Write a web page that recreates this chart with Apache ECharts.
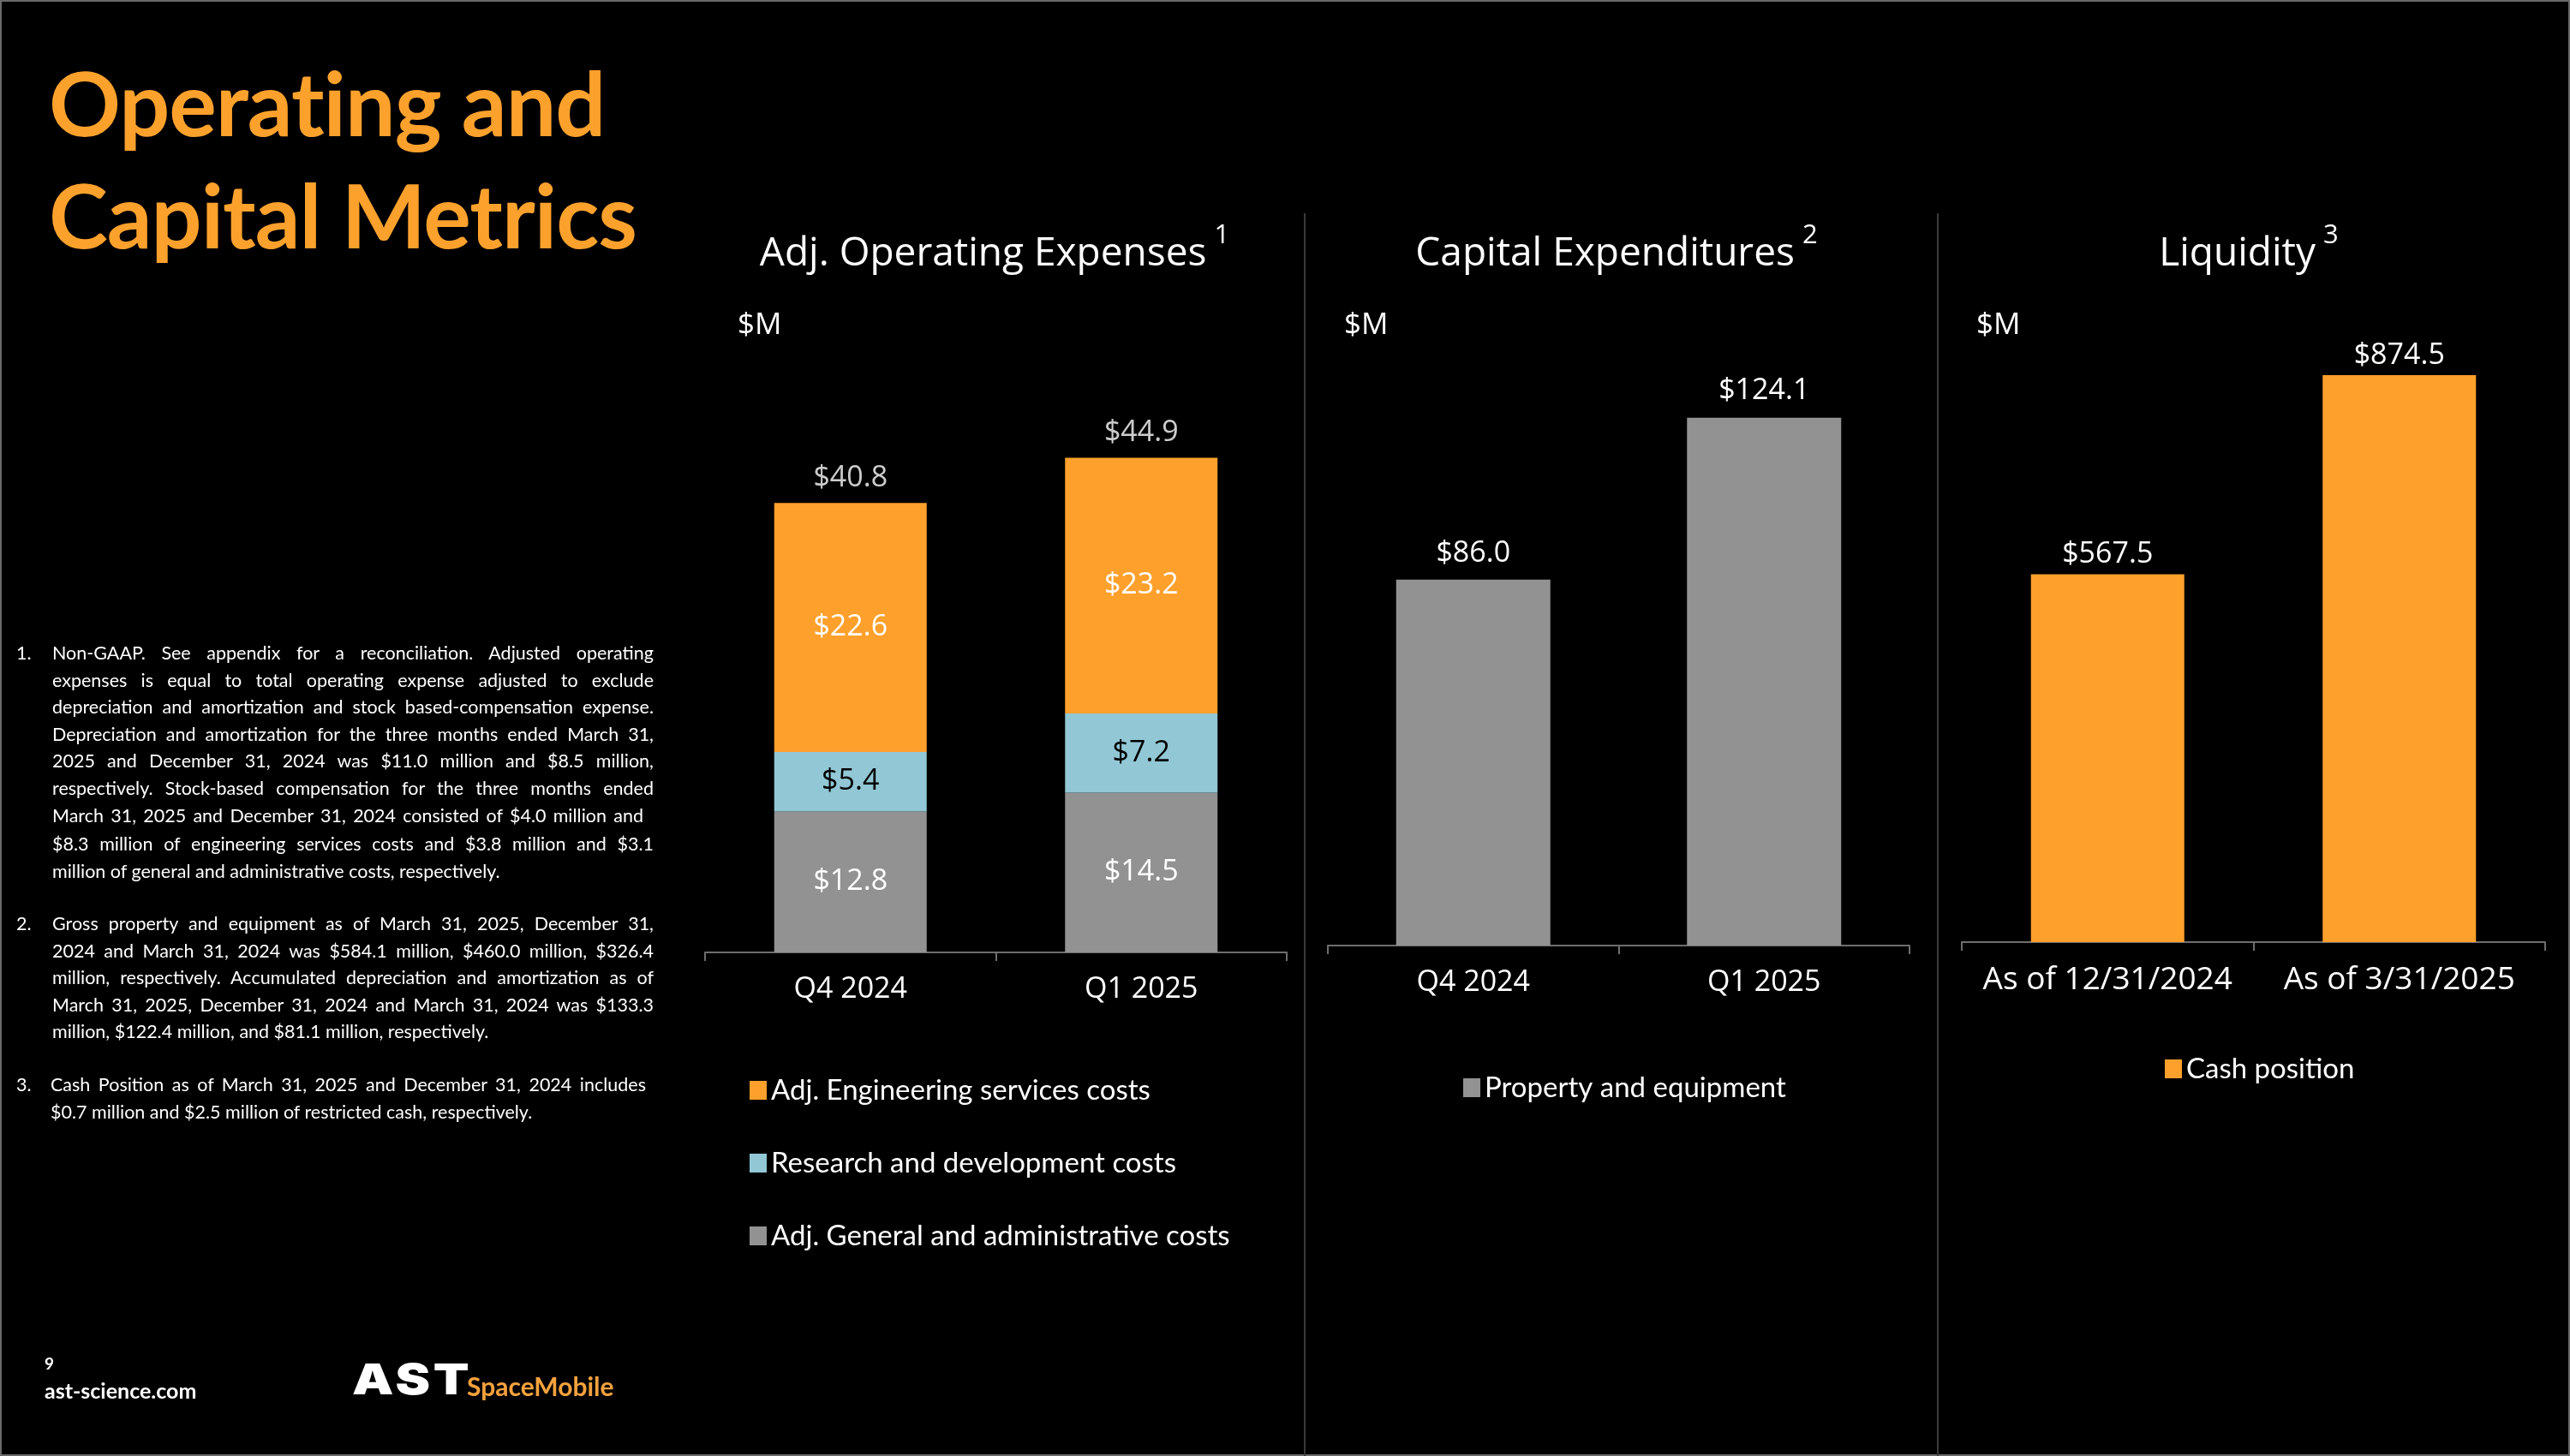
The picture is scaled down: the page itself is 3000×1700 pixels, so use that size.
<!DOCTYPE html>
<html>
<head>
<meta charset="utf-8">
<script src="https://cdn.jsdelivr.net/npm/echarts@6/dist/echarts.min.js"></script>
<style>
  html, body { margin: 0; padding: 0; background: #000; }
  #page { position: relative; width: 3000px; height: 1700px; background: #000; overflow: hidden; box-shadow: inset 0 0 0 2px #6a6a6a; }
  #chart { position: absolute; left: 0; top: 0; width: 3000px; height: 1700px; }
  .headline { position: absolute; left: 57px; top: 53px; color: #FDA12D; font-family: Lato, sans-serif; font-weight: 700; font-size: 104px; line-height: 131px; letter-spacing: -1px; }
  .notes { position: absolute; left: 19px; width: 744px; color: #fff; font-family: Lato, sans-serif; font-size: 21.5px; line-height: 31.6px; }
  .notes .num { position: absolute; left: 0; top: 0; }
  .notes .body { margin-left: 42px; }
  .notes .j { text-align: justify; text-align-last: justify; white-space: nowrap; }
  .notes .l { text-align: left; white-space: nowrap; }
  .foot { position: absolute; color: #fff; font-family: Lato, sans-serif; font-weight: 700; }
</style>
</head>
<body>
<div id="page">
  <div id="chart"></div>

  <div class="headline">Operating and<br>Capital Metrics</div>

  <div class="notes" style="top:747px">
    <div class="num">1.</div>
    <div class="body">
      <div class="j">Non-GAAP. See appendix for a reconciliation. Adjusted operating</div>
      <div class="j">expenses is equal to total operating expense adjusted to exclude</div>
      <div class="j">depreciation and amortization and stock based-compensation expense.</div>
      <div class="j">Depreciation and amortization for the three months ended March 31,</div>
      <div class="j">2025 and December 31, 2024 was $11.0 million and $8.5 million,</div>
      <div class="j">respectively. Stock-based compensation for the three months ended</div>
      <div class="j" style="width:690px">March 31, 2025 and December 31, 2024 consisted of $4.0 million and</div>
      <div class="j" style="margin-top:2px">$8.3 million of engineering services costs and $3.8 million and $3.1</div>
      <div class="l">million of general and administrative costs, respectively.</div>
    </div>
  </div>

  <div class="notes" style="top:1063px">
    <div class="num">2.</div>
    <div class="body">
      <div class="j">Gross property and equipment as of March 31, 2025, December 31,</div>
      <div class="j">2024 and March 31, 2024 was $584.1 million, $460.0 million, $326.4</div>
      <div class="j">million, respectively. Accumulated depreciation and amortization as of</div>
      <div class="j">March 31, 2025, December 31, 2024 and March 31, 2024 was $133.3</div>
      <div class="l">million, $122.4 million, and $81.1 million, respectively.</div>
    </div>
  </div>

  <div class="notes" style="top:1251px">
    <div class="num">3.</div>
    <div class="body" style="margin-left:40px">
      <div class="j" style="width:695px">Cash Position as of March 31, 2025 and December 31, 2024 includes</div>
      <div class="l">$0.7 million and $2.5 million of restricted cash, respectively.</div>
    </div>
  </div>

  <div class="foot" style="left:52px; top:1580px; font-size:19px;">9</div>
  <div class="foot" style="left:52px; top:1608px; font-size:25px;">ast-science.com</div>
  <div class="foot" style="left:411px; top:1580px; font-family:Inter, sans-serif; font-weight:900; font-size:50px; letter-spacing:3px; line-height:60px; transform:scaleX(1.22); transform-origin:left top;">AST</div>
  <div class="foot" style="left:545px; top:1600px; font-size:30px; color:#F4A13D; line-height:36px;">SpaceMobile</div>
</div>

<script>
// Adj. operating expenses ($M)
const opexCategories = ['Q4 2024', 'Q1 2025'];
const engineeringCosts = [22.6, 23.2];
const researchCosts = [5.4, 7.2];
const adminCosts = [12.8, 14.5];
const opexTotals = [40.8, 44.9];

// Capital expenditures ($M)
const capexCategories = ['Q4 2024', 'Q1 2025'];
const capexValues = [86.0, 124.1];

// Liquidity ($M)
const cashCategories = ['As of 12/31/2024', 'As of 3/31/2025'];
const cashValues = [567.5, 874.5];

const ORANGE = '#FEA02C';
const GRAY = '#929292';
const BLUE = '#92C7D5';
const AXIS = '#6e6e6e';
const LABEL_FONT = '"Open Sans", sans-serif';

const chart = echarts.init(document.getElementById('chart'), null, { renderer: 'canvas' });

const money = p => '$' + Number(p.value).toFixed(1);

const catAxis = (gridIndex, data, fontSize) => ({
  type: 'category',
  gridIndex,
  data,
  axisLine: { lineStyle: { color: AXIS, width: 2 } },
  axisTick: { show: true, length: 10, lineStyle: { color: AXIS, width: 2 } },
  axisLabel: { color: '#fff', fontSize, fontFamily: LABEL_FONT, margin: 26, interval: 0, hideOverlap: false }
});

const valAxis = (gridIndex, max) => ({
  type: 'value', gridIndex, min: 0, max, show: false, splitLine: { show: false }
});

const title = (x, text, sup) => ({
  type: 'text', x, y: 290,
  style: {
    text: '{t|' + text + '}{s|' + sup + '}',
    align: 'center', verticalAlign: 'middle',
    rich: {
      t: { fontSize: 46, fontFamily: LABEL_FONT, fill: '#fff', lineHeight: 60, verticalAlign: 'bottom' },
      s: { fontSize: 31, fontFamily: LABEL_FONT, fill: '#fff', lineHeight: 54, verticalAlign: 'top', padding: [0, 0, 0, 9] }
    }
  }
});

const unit = x => ({
  type: 'text', x, y: 380,
  style: { text: '$M', fill: '#fff', fontSize: 35, fontFamily: LABEL_FONT, verticalAlign: 'middle' }
});

const divider = x => ({
  type: 'line', shape: { x1: x, y1: 249, x2: x, y2: 1700 },
  style: { stroke: '#3a3a3a', lineWidth: 2 }
});

const legendBase = {
  orient: 'vertical',
  icon: 'rect',
  itemWidth: 20,
  itemHeight: 22,
  itemGap: 45,
  itemTextGap: 10,
  textStyle: { color: '#fff', fontSize: 33, fontFamily: 'Lato, sans-serif', lineHeight: 40 }
};

chart.setOption({
  animation: false,
  backgroundColor: 'transparent',
  grid: [
    { left: 823, width: 679, top: 469, height: 643 },
    { left: 1550, width: 679, top: 359, height: 745 },
    { left: 2290, width: 681, top: 343, height: 757 }
  ],
  xAxis: [
    catAxis(0, opexCategories, 34),
    catAxis(1, capexCategories, 34),
    catAxis(2, cashCategories, 37)
  ],
  yAxis: [valAxis(0, 50), valAxis(1, 150), valAxis(2, 1000)],
  legend: [
    Object.assign({}, legendBase, {
      left: 870, top: 1248,
      data: ['Adj. Engineering services costs', 'Research and development costs', 'Adj. General and administrative costs']
    }),
    Object.assign({}, legendBase, { left: 1703, top: 1245, data: ['Property and equipment'] }),
    Object.assign({}, legendBase, { left: 2522, top: 1223, data: ['Cash position'] })
  ],
  graphic: [
    divider(1523), divider(2262),
    title(1161, 'Adj. Operating Expenses', '1'),
    title(1887, 'Capital Expenditures', '2'),
    title(2625, 'Liquidity', '3'),
    unit(861), unit(1569), unit(2307)
  ],
  series: [
    {
      name: 'Adj. General and administrative costs', type: 'bar', stack: 'opex',
      xAxisIndex: 0, yAxisIndex: 0, barWidth: 178, data: adminCosts,
      itemStyle: { color: GRAY },
      label: { show: true, position: 'inside', color: '#fff', fontSize: 34, fontFamily: LABEL_FONT, formatter: money }
    },
    {
      name: 'Research and development costs', type: 'bar', stack: 'opex',
      xAxisIndex: 0, yAxisIndex: 0, barWidth: 178, data: researchCosts,
      itemStyle: { color: BLUE },
      label: { show: true, position: 'inside', color: '#000', fontSize: 34, fontFamily: LABEL_FONT, formatter: money }
    },
    {
      name: 'Adj. Engineering services costs', type: 'bar', stack: 'opex',
      xAxisIndex: 0, yAxisIndex: 0, barWidth: 178, data: engineeringCosts,
      itemStyle: { color: ORANGE },
      label: { show: true, position: 'inside', color: '#fff', fontSize: 34, fontFamily: LABEL_FONT, formatter: money }
    },
    {
      name: 'Total', type: 'scatter', xAxisIndex: 0, yAxisIndex: 0,
      symbolSize: 0, data: opexTotals, silent: true,
      label: { show: true, position: 'top', distance: 12, color: '#fff', fontSize: 34, fontFamily: LABEL_FONT, formatter: money }
    },
    {
      name: 'Property and equipment', type: 'bar',
      xAxisIndex: 1, yAxisIndex: 1, barWidth: 180, data: capexValues,
      itemStyle: { color: GRAY },
      label: { show: true, position: 'top', distance: 14, color: '#fff', fontSize: 34, fontFamily: LABEL_FONT, formatter: money }
    },
    {
      name: 'Cash position', type: 'bar',
      xAxisIndex: 2, yAxisIndex: 2, barWidth: 179, data: cashValues,
      itemStyle: { color: ORANGE },
      label: { show: true, position: 'top', distance: 6, color: '#fff', fontSize: 34, fontFamily: LABEL_FONT, formatter: money }
    }
  ]
});
</script>
</body>
</html>
